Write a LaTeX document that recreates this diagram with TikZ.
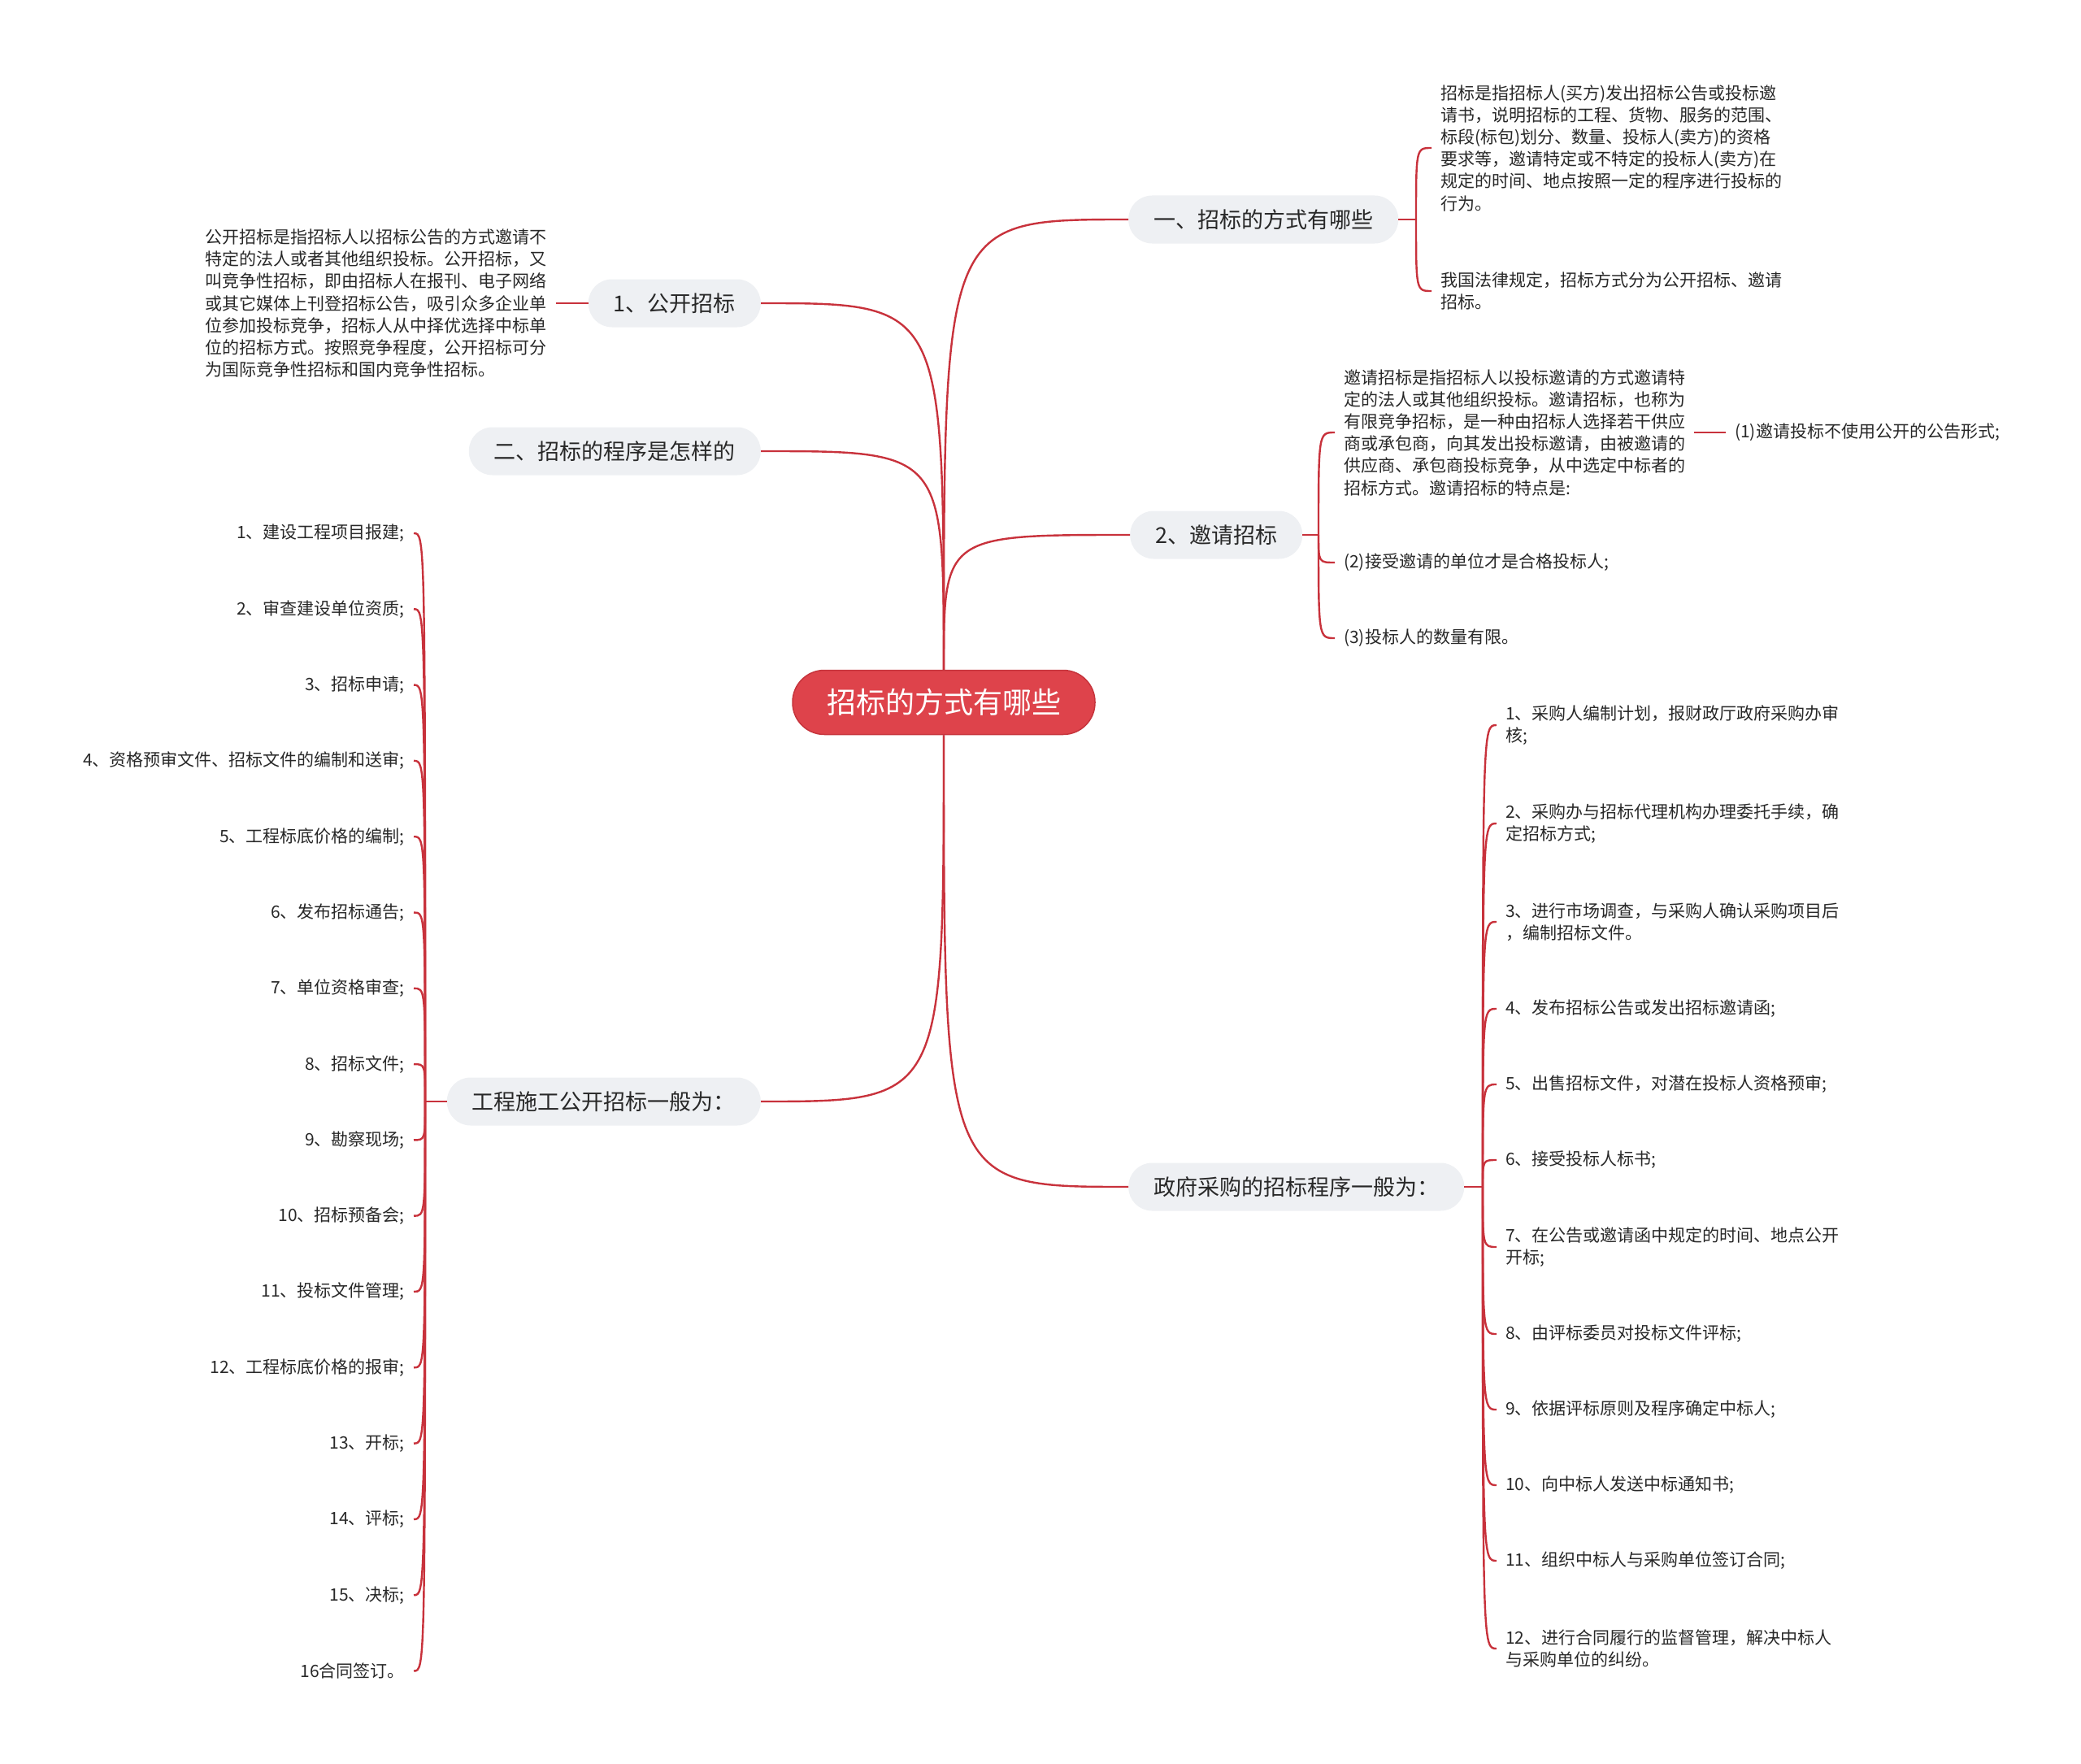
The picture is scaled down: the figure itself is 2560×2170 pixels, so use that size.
\documentclass[tikz,border=0pt]{standalone}
\usepackage{fontspec}
\setmainfont{Noto Sans CJK SC}
\usepackage{tikz}
\usetikzlibrary{positioning}
\definecolor{rootred}{RGB}{222,67,75}
\definecolor{rootedge}{RGB}{198,52,60}
\definecolor{linkred}{RGB}{200,50,60}
\definecolor{topicgray}{RGB}{238,240,243}
\definecolor{textgray}{RGB}{40,40,40}
\tikzset{
  rootbox/.style={fill=rootred, draw=rootedge, line width=1.5pt,
    rounded corners=39pt, minimum height=79pt, inner xsep=42pt,
    text=white, font=\fontsize{36}{40}\selectfont},
  topicbox/.style={fill=topicgray, rounded corners=29pt, minimum height=59pt,
    inner xsep=31pt, text=textgray, font=\fontsize{27}{30}\selectfont},
  leaftext/.style={align=left, inner xsep=11pt, inner ysep=2pt,
    text=textgray, font=\fontsize{21}{27.2}\selectfont},
  branchline/.style={draw=linkred, line width=2.4pt}
}

\begin{document}
\begin{tikzpicture}[x=1pt, y=-1pt]
          \useasboundingbox (0,0) rectangle (2560,2170);
          % centre and main topics
          \node[rootbox] (root) at (1161,864) {招标的方式有哪些};
          \node[topicbox, anchor=west] (fangshi) at (1388,270) {一、招标的方式有哪些};
          \node[topicbox, anchor=west] (yaoqing) at (1390,658) {2、邀请招标};
          \node[topicbox, anchor=west] (zhengfu) at (1388,1460) {政府采购的招标程序一般为：};
          \node[topicbox, anchor=east] (gongkai) at (936,373) {1、公开招标};
          \node[topicbox, anchor=east] (chengxu) at (936,555) {二、招标的程序是怎样的};
          \node[topicbox, anchor=east] (gongcheng) at (936,1355) {工程施工公开招标一般为：};
          \foreach \t/\s in {fangshi/west, yaoqing/west, gongkai/east, chengxu/east}
            \draw[branchline] (root.north) .. controls (root.north |- \t.\s) .. (\t.\s);
          \foreach \t/\s in {gongcheng/east, zhengfu/west}
            \draw[branchline] (root.south) .. controls (root.south |- \t.\s) .. (\t.\s);

          % 一、招标的方式有哪些
          \coordinate (fangshihub) at (1742,270);
          \node[leaftext, anchor=west] (fangshi1) at (1761,182)
            {招标是指招标人(买方)发出招标公告或投标邀\\请书，说明招标的工程、货物、服务的范围、\\标段(标包)划分、数量、投标人(卖方)的资格\\要求等，邀请特定或不特定的投标人(卖方)在\\规定的时间、地点按照一定的程序进行投标的\\行为。};
          \node[leaftext, anchor=west] (fangshi2) at (1761,358)
            {我国法律规定，招标方式分为公开招标、邀请\\招标。};
          \draw[branchline] (fangshi.east) -- (fangshihub);
          \foreach \k in {fangshi1, fangshi2}
            \draw[branchline] (fangshihub) .. controls (fangshihub |- \k.west) .. (\k.west);

          % 2、邀请招标
          \coordinate (yaoqinghub) at (1622,658);
          \node[leaftext, anchor=west] (yaoqing1) at (1642,532)
            {邀请招标是指招标人以投标邀请的方式邀请特\\定的法人或其他组织投标。邀请招标，也称为\\有限竞争招标，是一种由招标人选择若干供应\\商或承包商，向其发出投标邀请，由被邀请的\\供应商、承包商投标竞争，从中选定中标者的\\招标方式。邀请招标的特点是:};
          \node[leaftext, anchor=west] (yaoqing2) at (1642,692) {(2)接受邀请的单位才是合格投标人;};
          \node[leaftext, anchor=west] (yaoqing3) at (1642,785) {(3)投标人的数量有限。};
          \node[leaftext, anchor=west] (tedian1) at (2123,532) {(1)邀请投标不使用公开的公告形式;};
          \draw[branchline] (yaoqing.east) -- (yaoqinghub);
          \foreach \k in {yaoqing1, yaoqing2, yaoqing3}
            \draw[branchline] (yaoqinghub) .. controls (yaoqinghub |- \k.west) .. (\k.west);
          \draw[branchline] (yaoqing1.east) -- (tedian1.west);

          % 1、公开招标
          \node[leaftext, anchor=east] (gongkai1) at (684,373)
            {公开招标是指招标人以招标公告的方式邀请不\\特定的法人或者其他组织投标。公开招标，又\\叫竞争性招标，即由招标人在报刊、电子网络\\或其它媒体上刊登招标公告，吸引众多企业单\\位参加投标竞争，招标人从中择优选择中标单\\位的招标方式。按照竞争程度，公开招标可分\\为国际竞争性招标和国内竞争性招标。};
          \draw[branchline] (gongkai.west) -- (gongkai1.east);

          % 工程施工公开招标
          \coordinate (gongchenghub) at (523,1355);
          \draw[branchline] (gongcheng.west) -- (gongchenghub);
          \foreach \i/\txt in {1/{1、建设工程项目报建;}, 2/{2、审查建设单位资质;}, 3/{3、招标申请;},
              4/{4、资格预审文件、招标文件的编制和送审;}, 5/{5、工程标底价格的编制;},
              6/{6、发布招标通告;}, 7/{7、单位资格审查;}, 8/{8、招标文件;}, 9/{9、勘察现场;},
              10/{10、招标预备会;}, 11/{11、投标文件管理;}, 12/{12、工程标底价格的报审;},
              13/{13、开标;}, 14/{14、评标;}, 15/{15、决标;}, 16/{16合同签订。}} {
            \node[leaftext, anchor=east] (buzhou\i) at (509,{656+93.3*(\i-1)}) {\txt};
            \draw[branchline] (gongchenghub) .. controls (gongchenghub |- buzhou\i.east) .. (buzhou\i.east);
          }

          % 政府采购的招标程序
          \coordinate (zhengfuhub) at (1824,1460);
          \draw[branchline] (zhengfu.east) -- (zhengfuhub);
          \foreach \i/\y/\txt in {1/892/{1、采购人编制计划，报财政厅政府采购办审\\核;},
              2/1013/{2、采购办与招标代理机构办理委托手续，确\\定招标方式;},
              3/1134/{3、进行市场调查，与采购人确认采购项目后\\，编制招标文件。},
              4/1241/{4、发布招标公告或发出招标邀请函;}, 5/1334/{5、出售招标文件，对潜在投标人资格预审;},
              6/1427/{6、接受投标人标书;}, 7/1534/{7、在公告或邀请函中规定的时间、地点公开\\开标;},
              8/1641/{8、由评标委员对投标文件评标;}, 9/1734/{9、依据评标原则及程序确定中标人;},
              10/1827/{10、向中标人发送中标通知书;}, 11/1920/{11、组织中标人与采购单位签订合同;},
              12/2028/{12、进行合同履行的监督管理，解决中标人\\与采购单位的纠纷。}} {
            \node[leaftext, anchor=west] (caigou\i) at (1841,\y) {\txt};
            \draw[branchline] (zhengfuhub) .. controls (zhengfuhub |- caigou\i.west) .. (caigou\i.west);
          }
        \end{tikzpicture}
\end{document}
